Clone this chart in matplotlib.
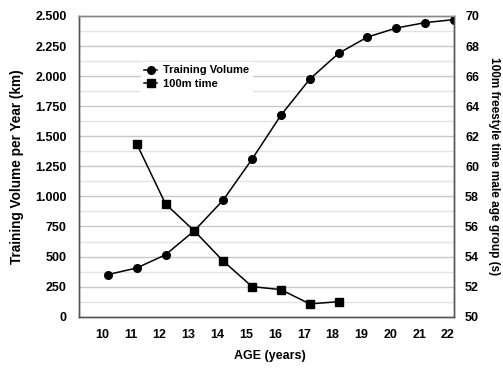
import numpy as np
import matplotlib.pyplot as plt
from matplotlib.ticker import FuncFormatter

plt.rcParams['font.family'] = ['Liberation Sans', 'DejaVu Sans']
plt.rcParams['font.weight'] = 'bold'

# data
age = [10, 11, 12, 13, 14, 15, 16, 17, 18, 19, 20, 21, 22]
volume = [350, 405, 515, 715, 970, 1310, 1675, 1975, 2190, 2325, 2400, 2445, 2470]
time_age = [11, 12, 13, 14, 15, 16, 17, 18]
time_100m = [61.5, 57.5, 55.7, 53.7, 52.0, 51.8, 50.85, 51.0]

fig = plt.figure(figsize=(5.03, 3.72), dpi=100)
ax1 = fig.add_axes([79/503, 1 - 316.7/372, 375/503, 300.7/372])
ax2 = ax1.twinx()

# gridlines: darker every 250, lighter in between
for y in np.arange(125, 2500, 125):
    c = '#c8c8c8' if y % 250 == 0 else '#e4e4e4'
    ax1.axhline(y, color=c, lw=1.0, zorder=0)

l1, = ax1.plot(age, volume, color='black', lw=1.1, marker='o', ms=5.5,
               label='Training Volume', zorder=3)
l2, = ax2.plot(time_age, time_100m, color='black', lw=1.1, marker='s', ms=5.5,
               label='100m time', zorder=3)

ax1.set_xlim(9, 22)
ax1.set_ylim(0, 2500)
ax2.set_ylim(50, 70)

ax1.set_xticks([a - 0.21 for a in age])
ax1.set_xticklabels([str(a) for a in age])
ax1.set_yticks(np.arange(0, 2501, 250))
ax1.yaxis.set_major_formatter(FuncFormatter(lambda v, p: f'{int(v):,}'.replace(',', '.')))
ax2.set_yticks(np.arange(50, 71, 2))

ax1.tick_params(axis='x', length=0, pad=9, labelsize=9)
ax1.tick_params(axis='y', length=0, pad=9, labelsize=9)
ax2.tick_params(axis='y', length=0, pad=8, labelsize=9)

for ax in (ax1, ax2):
    for s in ax.spines.values():
        s.set_color('#555555')
        s.set_linewidth(1.0)
    ax.spines['top'].set_color('#888888')

ax1.set_ylabel('Training Volume per Year (km)', fontsize=9.8, fontweight='bold', labelpad=8)
ax2.set_ylabel('100m freestyle time male age group (s)', fontsize=8.5, fontweight='bold',
               rotation=270, labelpad=15)
fig.text(270/503, 1 - 356/372, 'AGE (years)', ha='center', va='center', fontsize=9,
         fontweight='bold')

leg = ax2.legend(handles=[l1, l2], loc='upper left', bbox_to_anchor=(0.15, 0.865),
                 frameon=True, fontsize=8, handlelength=1.2, borderpad=0.3,
                 labelspacing=0.3, handletextpad=0.5, fancybox=False)
leg.get_frame().set_edgecolor('white')
leg.get_frame().set_facecolor('white')
leg.get_frame().set_alpha(1.0)

fig.savefig('out.png', dpi=100)
